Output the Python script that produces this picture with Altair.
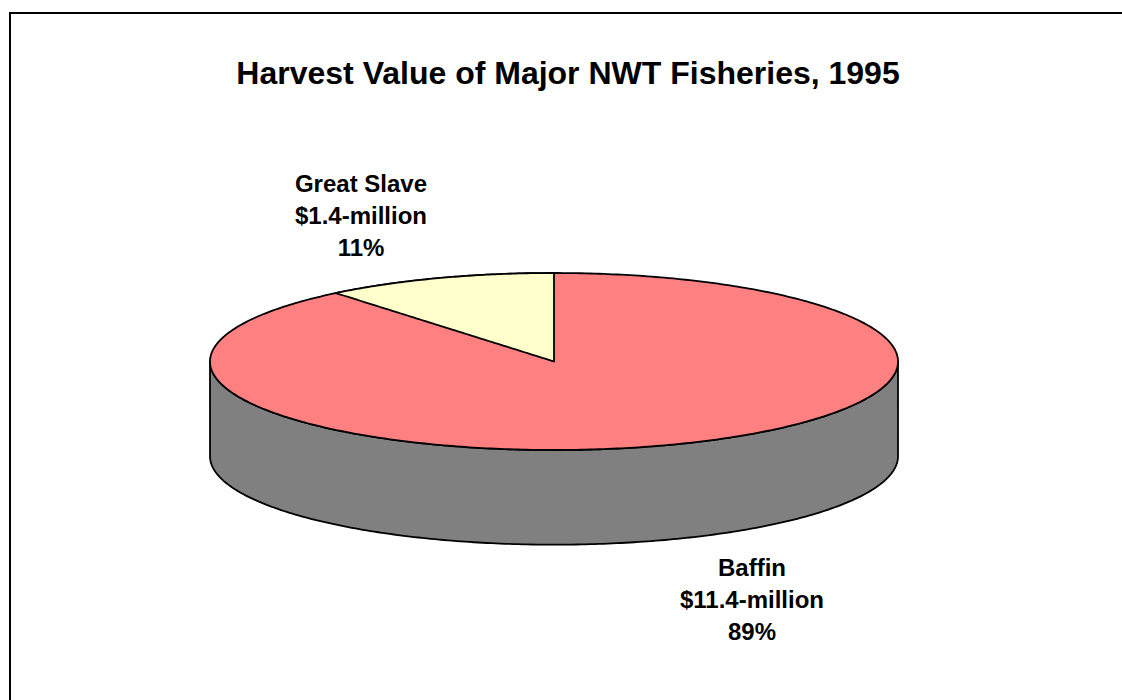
import altair as alt
import numpy as np
import pandas as pd

# ---- data ----
regions = ["Baffin", "Great Slave"]
values = [11.4, 1.4]                      # $ million
value_labels = ["$11.4-million", "$1.4-million"]
pct_labels = ["89%", "11%"]
title_text = "Harvest Value of Major NWT Fisheries, 1995"

colors = {"Baffin": "#FF8080", "Great Slave": "#FFFFCC", "side": "#808080"}

# ---- pie geometry (unit ellipse, squashed by the scales) ----
total = sum(values)
frac_gs = values[1] / total               # Great Slave share -> wedge angle
a = 2 * np.pi * frac_gs
depth = 1.07                              # thickness of the 3-D disc in y units

phi = np.linspace(0, np.pi, 241)
u = np.cos(phi)
top_df = pd.DataFrame({"u": u, "v": np.sin(phi), "v2": -np.sin(phi)})
side_df = pd.DataFrame({"u": u, "v": -np.sin(phi), "v2": -np.sin(phi) - depth})

# Great Slave wedge: last slice, from 12 o'clock counter-clockwise by angle a
th = np.linspace(-a, 0, 81)
u_end, v_end = np.sin(-a), np.cos(-a)
wedge_df = pd.DataFrame({"u": np.sin(th), "v": np.cos(th),
                         "v2": v_end / u_end * np.sin(th)})

xs = alt.Scale(domain=[-1, 1], range=[210, 898])
ys = alt.Scale(domain=[-1, 1], range=[450, 273])


def disc(df, fill):
    return alt.Chart(df).mark_area(
        fill=fill, stroke="black", strokeWidth=1.8, strokeJoin="round"
    ).encode(
        x=alt.X("u:Q", scale=xs, axis=None),
        y=alt.Y("v:Q", scale=ys, axis=None),
        y2="v2:Q",
    )


side = disc(side_df, colors["side"])
top = disc(top_df, colors["Baffin"])
wedge = disc(wedge_df, colors["Great Slave"])

font = "Liberation Sans"


def label(i, x, y):
    txt = f"{regions[i]}\n{value_labels[i]}\n{pct_labels[i]}"
    return alt.Chart(pd.DataFrame({"t": [txt]})).mark_text(
        font=font, fontSize=24, fontWeight="bold", color="black",
        align="center", baseline="alphabetic", lineBreak="\n", lineHeight=32,
    ).encode(text="t:N", x=alt.value(x), y=alt.value(y))


lab_gs = label(1, 361, 192)
lab_baffin = label(0, 752, 576)

title = alt.Chart(pd.DataFrame({"t": [title_text]})).mark_text(
    font=font, fontSize=32, fontWeight="bold", color="black",
    align="center", baseline="alphabetic",
).encode(text="t:N", x=alt.value(568), y=alt.value(84))

border_top = alt.Chart(pd.DataFrame({"k": [0]})).mark_rule(
    color="black", strokeWidth=2
).encode(x=alt.value(9), x2=alt.value(1122), y=alt.value(13))
border_left = alt.Chart(pd.DataFrame({"k": [0]})).mark_rule(
    color="black", strokeWidth=2
).encode(x=alt.value(10), y=alt.value(12), y2=alt.value(700))

chart = alt.layer(
    side, top, wedge, lab_gs, lab_baffin, title, border_top, border_left
).properties(
    width=1122, height=700, autosize=alt.AutoSizeParams(type="none"),
    padding=0, background="white",
).configure_view(stroke=None)

chart.save("out.html", embed_options={"renderer": "svg", "actions": False})
